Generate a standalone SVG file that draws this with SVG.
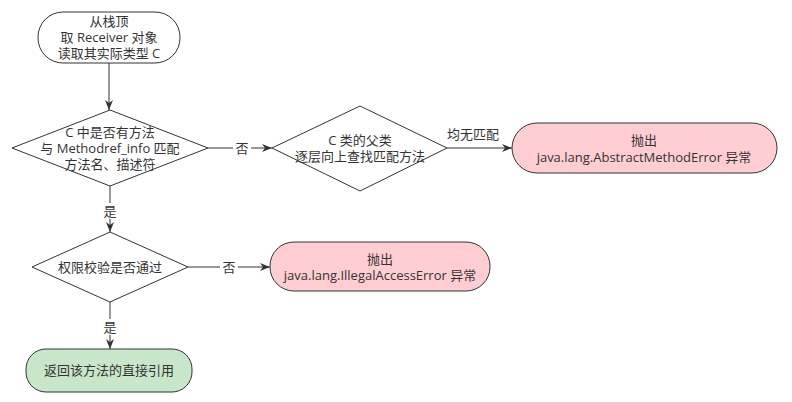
<svg xmlns="http://www.w3.org/2000/svg" width="792" height="402" viewBox="0 0 792 402">
<defs>
<marker id="arr" viewBox="0 0 10 10" refX="10" refY="5" markerWidth="10" markerHeight="10" markerUnits="userSpaceOnUse" orient="auto">
<path d="M0,1 L10,5 L0,9 L3,5 Z" fill="#333"/>
</marker>
<style>
text{font-family:"Open Sans","Noto Sans CJK SC",sans-serif;font-size:13px;fill:#333;text-anchor:middle}
.n{stroke:#333;stroke-width:1}
.w{fill:#fff}
.p{fill:#ffcdd2}
.g{fill:#c8e6c9}
.e{stroke:#333;stroke-width:1;fill:none}
.lb{fill:#fff}
</style>
</defs>
<rect width="792" height="402" fill="#fff"/>
<g id="connectors">
<path class="e" d="M109,63 V110" marker-end="url(#arr)"/>
<path class="e" d="M208,148 H272" marker-end="url(#arr)"/>
<rect class="lb" x="233" y="140" width="18" height="16"/>
<text x="242" y="153">否</text>
<path class="e" d="M447,148 H512" marker-end="url(#arr)"/>
<text x="473" y="139">均无匹配</text>
<path class="e" d="M110,186 V232" marker-end="url(#arr)"/>
<rect class="lb" x="101" y="203" width="18" height="16"/>
<text x="110" y="216">是</text>
<path class="e" d="M188,267 H270" marker-end="url(#arr)"/>
<rect class="lb" x="220" y="259" width="18" height="16"/>
<text x="229" y="272">否</text>
<path class="e" d="M110,302 V349" marker-end="url(#arr)"/>
<rect class="lb" x="101" y="319" width="18" height="16"/>
<text x="110" y="332">是</text>
</g>
<g id="start">
<rect class="n w" x="38" y="12" width="142" height="51" rx="25" ry="25"/>
<text x="109" y="26">从栈顶</text>
<text x="109" y="42">取 Receiver 对象</text>
<text x="109" y="58">读取其实际类型 C</text>
</g>
<g id="check-method">
<polygon class="n w" points="110,110 208,148 110,186 12,148"/>
<text x="110" y="137">C 中是否有方法</text>
<text x="110" y="153">与 Methodref_info 匹配</text>
<text x="110" y="169">方法名、描述符</text>
</g>
<g id="check-super">
<polygon class="n w" points="360,106 447,148 360,191 272,148"/>
<text x="360" y="145">C 类的父类</text>
<text x="360" y="161">逐层向上查找匹配方法</text>
</g>
<g id="abstract-error">
<rect class="n p" x="512" y="123" width="265" height="50" rx="25" ry="25"/>
<text x="644" y="145">抛出</text>
<text x="644" y="162">java.lang.AbstractMethodError 异常</text>
</g>
<g id="check-access">
<polygon class="n w" points="110,232 188,267 110,302 32,267"/>
<text x="110" y="272">权限校验是否通过</text>
</g>
<g id="access-error">
<rect class="n p" x="270" y="242" width="220" height="49" rx="24" ry="24"/>
<text x="380" y="264">抛出</text>
<text x="380" y="280">java.lang.IllegalAccessError 异常</text>
</g>
<g id="return-ref">
<rect class="n g" x="26" y="349" width="166" height="43" rx="20" ry="20"/>
<text x="109" y="375">返回该方法的直接引用</text>
</g>
</svg>
